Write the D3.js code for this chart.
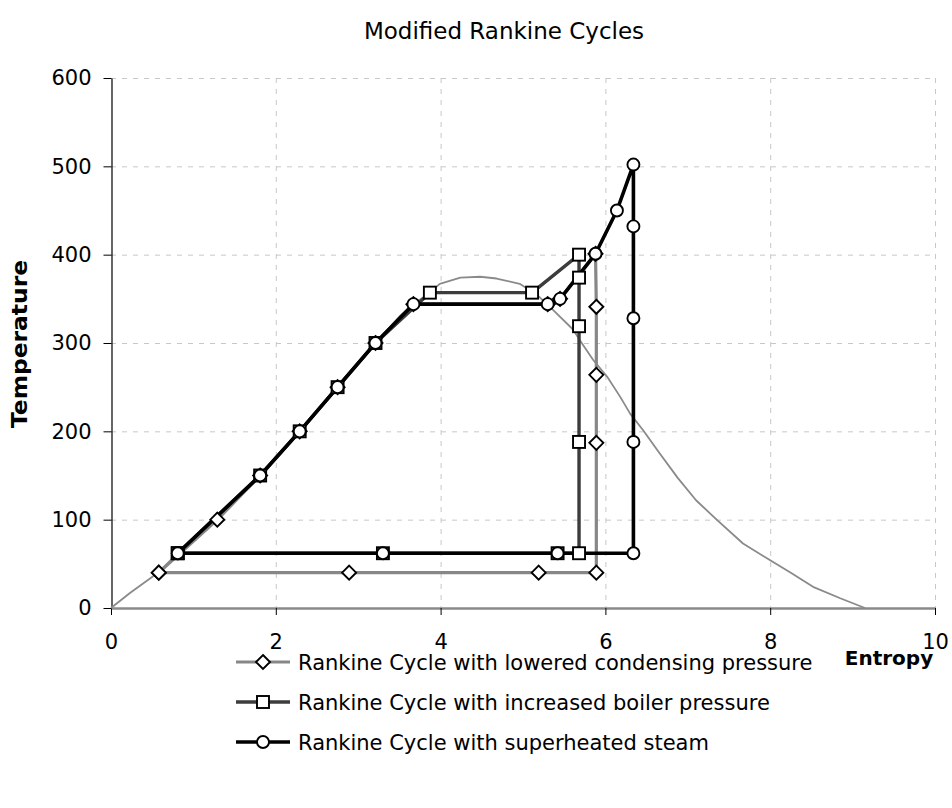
<!DOCTYPE html>
<html>
<head>
<meta charset="utf-8">
<script src="https://cdn.jsdelivr.net/npm/d3@7"></script>
<style>
  body { margin: 0; background: #fff; }
  svg text { font-family: "DejaVu Sans", sans-serif; fill: #000; }
</style>
</head>
<body>
<div id="chart"></div>
<script>
// saturation dome (entropy, temperature)
var domeS = [0, 0.23, 0.57, 0.81, 1.29, 1.81, 2.29, 2.75, 3.21, 3.5, 3.67, 3.87, 3.99, 4.24, 4.48, 4.68, 4.96, 5.11, 5.2, 5.37, 5.61, 5.69, 5.85, 6.02, 6.18, 6.3, 6.46, 6.66, 6.88, 7.1, 7.35, 7.67, 8.0, 8.25, 8.52, 8.85, 9.15];
var domeT = [0, 17, 40, 62, 100, 150, 200, 250, 300, 330, 344, 357, 367, 374, 375, 373, 367, 358, 352, 337, 315, 303, 281, 262, 239, 220, 201, 175, 147, 122, 100, 73, 54, 40, 24, 11, 0];

// Rankine Cycle with lowered condensing pressure
var lowS = [0.58, 1.29, 1.81, 2.29, 2.75, 3.21, 3.67, 5.3, 5.45, 5.88, 5.89, 5.89, 5.89, 5.89, 5.19, 2.89, 0.58];
var lowT = [40, 100, 150, 200, 250, 300, 344, 344, 350, 401, 341, 264, 187, 40, 40, 40, 40];

// Rankine Cycle with increased boiler pressure
var boilS = [0.81, 1.81, 2.29, 2.75, 3.21, 3.87, 5.11, 5.68, 5.68, 5.68, 5.68, 5.68, 5.42, 3.3, 0.81];
var boilT = [62, 150, 200, 250, 300, 357, 357, 400, 374, 319, 188, 62, 62, 62, 62];

// Rankine Cycle with superheated steam
var supS = [0.81, 1.81, 2.29, 2.75, 3.21, 3.67, 5.3, 5.45, 5.88, 6.14, 6.34, 6.34, 6.34, 6.34, 6.34, 5.42, 3.3, 0.81];
var supT = [62, 150, 200, 250, 300, 344, 344, 350, 401, 450, 502, 432, 328, 188, 62, 62, 62, 62];

var xTicks = [0, 2, 4, 6, 8, 10];
var yTicks = [0, 100, 200, 300, 400, 500, 600];

var seriesNames = [
    "Rankine Cycle with lowered condensing pressure",
    "Rankine Cycle with increased boiler pressure",
    "Rankine Cycle with superheated steam"
];

var width = 952, height = 808;

var svg = d3.select("#chart").append("svg")
    .attr("width", width)
    .attr("height", height);

var x = d3.scaleLinear().domain([0, 10]).range([111, 935]);
var y = d3.scaleLinear().domain([0, 600]).range([608, 78]);

function zipPts(s, t) {
    return s.map(function (v, i) { return [v, t[i]]; });
}

var series = [
    {name: seriesNames[0], pts: zipPts(lowS, lowT), color: "#878787", width: 3.2, marker: "diamond"},
    {name: seriesNames[1], pts: zipPts(boilS, boilT), color: "#3c3c3c", width: 3.4, marker: "square"},
    {name: seriesNames[2], pts: zipPts(supS, supT), color: "#000000", width: 3.6, marker: "circle"}
];

// grid
var grid = svg.append("g").attr("class", "grid")
    .attr("stroke", "#c8c8c8")
    .attr("stroke-width", 1)
    .attr("stroke-dasharray", "5,6");

grid.selectAll("line.h")
    .data(yTicks.slice(1))
    .enter().append("line")
    .attr("x1", x(0)).attr("x2", x(10))
    .attr("y1", function (d) { return y(d) + 0.5; })
    .attr("y2", function (d) { return y(d) + 0.5; });

grid.selectAll("line.v")
    .data(xTicks.slice(1))
    .enter().append("line")
    .attr("y1", y(600)).attr("y2", y(0))
    .attr("x1", function (d) { return x(d) + 0.5; })
    .attr("x2", function (d) { return x(d) + 0.5; });

// axes
var yAxis = svg.append("g")
    .attr("transform", "translate(" + (x(0) + 0.5) + ",0)")
    .call(d3.axisLeft(y).tickValues(yTicks).tickSize(8).tickPadding(12).tickSizeOuter(0));
yAxis.select(".domain").attr("stroke", "#000").attr("stroke-width", 1.2);

var xAxis = svg.append("g")
    .attr("transform", "translate(0," + y(0) + ")")
    .call(d3.axisBottom(x).tickValues(xTicks).tickSize(7).tickPadding(19).tickSizeOuter(0));
xAxis.select(".domain").attr("stroke", "#8a8a8a").attr("stroke-width", 2.5);

svg.selectAll(".tick line").attr("stroke", "#000");
svg.selectAll(".tick text")
    .style("font-family", "DejaVu Sans, sans-serif")
    .style("font-size", "21px")
    .attr("fill", "#000");

// lines
var line = d3.line()
    .x(function (d) { return x(d[0]); })
    .y(function (d) { return y(d[1]); });

svg.append("path")
    .datum(zipPts(domeS, domeT))
    .attr("fill", "none")
    .attr("stroke", "#8a8a8a")
    .attr("stroke-width", 1.8)
    .attr("stroke-linejoin", "round")
    .attr("d", line);

series.forEach(function (s) {
    svg.append("path")
        .datum(s.pts)
        .attr("fill", "none")
        .attr("stroke", s.color)
        .attr("stroke-width", s.width)
        .attr("stroke-linejoin", "round")
        .attr("d", line);
});

// markers
function drawMarker(g, type, cx, cy) {
    if (type == "diamond") {
        g.append("path")
            .attr("d", "M" + cx + "," + (cy - 7) + "L" + (cx + 7) + "," + cy +
                "L" + cx + "," + (cy + 7) + "L" + (cx - 7) + "," + cy + "Z")
            .attr("fill", "#fff").attr("stroke", "#000").attr("stroke-width", 1.9);
    } else if (type == "square") {
        g.append("rect")
            .attr("x", cx - 6).attr("y", cy - 6)
            .attr("width", 12).attr("height", 12)
            .attr("fill", "#fff").attr("stroke", "#000").attr("stroke-width", 1.9);
    } else {
        g.append("circle")
            .attr("cx", cx).attr("cy", cy).attr("r", 6)
            .attr("fill", "#fff").attr("stroke", "#000").attr("stroke-width", 1.9);
    }
}

series.forEach(function (s) {
    var g = svg.append("g");
    s.pts.forEach(function (p) {
        drawMarker(g, s.marker, x(p[0]), y(p[1]));
    });
});

// title
svg.append("text")
    .attr("x", 504)
    .attr("y", 39)
    .attr("text-anchor", "middle")
    .style("font-size", "23px")
    .text("Modified Rankine Cycles");

// axis titles
svg.append("text")
    .attr("transform", "translate(27,344) rotate(-90)")
    .attr("text-anchor", "middle")
    .attr("textLength", 168)
    .attr("lengthAdjust", "spacingAndGlyphs")
    .style("font-size", "21px")
    .style("font-weight", "bold")
    .text("Temperature");

svg.append("text")
    .attr("x", 889)
    .attr("y", 665)
    .attr("text-anchor", "middle")
    .style("font-size", "20px")
    .style("font-weight", "bold")
    .text("Entropy");

// legend
var legend = svg.append("g");
series.forEach(function (s, i) {
    var ly = 662 + i * 40;
    legend.append("line")
        .attr("x1", 236).attr("x2", 290)
        .attr("y1", ly).attr("y2", ly)
        .attr("stroke", s.color)
        .attr("stroke-width", s.width);
    drawMarker(legend, s.marker, 263, ly);
    legend.append("text")
        .attr("x", 298)
        .attr("y", ly + 8)
        .style("font-size", "21px")
        .text(s.name);
});
</script>
</body>
</html>
